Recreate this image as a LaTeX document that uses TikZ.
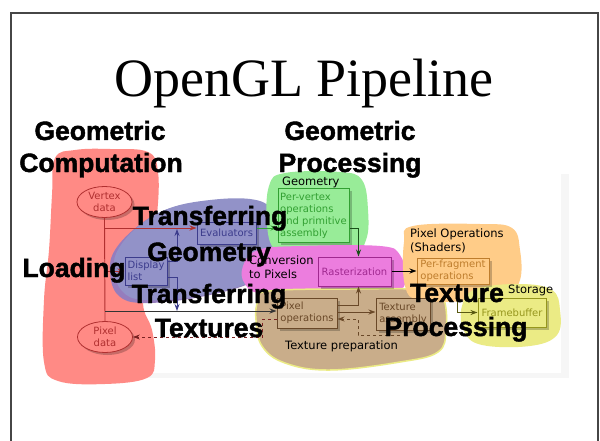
\documentclass[tikz,border=0pt]{standalone}
\usepackage{fontspec}
\setmainfont{Liberation Serif}
\newfontfamily\dv{DejaVu Sans}
\newfontfamily\heavy{Liberation Sans}[BoldFeatures={FakeBold=1.6}]
\usetikzlibrary{shapes.geometric,arrows.meta,shadows,calc}
\definecolor{cred}{RGB}{255,138,133}
\definecolor{cblue}{RGB}{146,146,200}
\definecolor{cgreen}{RGB}{152,236,152}
\definecolor{cpink}{RGB}{236,125,222}
\definecolor{cbrown}{RGB}{201,173,138}
\definecolor{corange}{RGB}{255,204,136}
\definecolor{cyellow}{RGB}{235,235,133}
\definecolor{dred}{RGB}{176,48,48}
\definecolor{dblue}{RGB}{60,60,140}
\definecolor{dgreen}{RGB}{50,160,50}
\definecolor{dpink}{RGB}{160,40,144}
\definecolor{dorange}{RGB}{190,125,45}
\definecolor{dbrown}{RGB}{105,72,40}
\definecolor{dolive}{RGB}{150,150,30}
\definecolor{framegray}{RGB}{70,70,70}
\definecolor{stripgray}{RGB}{246,246,246}
\tikzset{
  lab/.style={font=\heavy\bfseries\fontsize{26.5}{26.5}\selectfont, inner sep=0pt, anchor=base, text=black},
  small/.style={font=\dv\fontsize{11.5}{14}\selectfont, inner sep=0pt, text=black, align=left},
  boxtxt/.style={font=\dv\fontsize{10}{12}\selectfont, align=left, inner sep=1pt},
  pbox/.style={draw=#1, text=#1, line width=1pt, rectangle,
     drop shadow={shadow xshift=2.5pt, shadow yshift=-2.5pt, fill=black, opacity=0.22}},
  pell/.style={draw=dred, text=dred, fill=cred, line width=0.8pt, ellipse, inner sep=0pt,
     minimum width=55pt, minimum height=31pt, font=\dv\fontsize{10}{12}\selectfont, align=center,
     drop shadow={shadow xshift=2.5pt, shadow yshift=-2.5pt, fill=black, opacity=0.22}},
  conn/.style={line width=0.9pt, -{Stealth[length=7pt,width=5pt]}},
  link/.style={line width=0.9pt},
  blob/.style={smooth cycle, tension=0.65}
}
\begin{document}
\begin{tikzpicture}[x=1pt,y=-1pt]
\useasboundingbox (0,0) rectangle (600,441);
\fill[white] (0,0) rectangle (600,441);
% slide frame
\draw[framegray, line width=1.3pt] (11,441) -- (11,13) -- (598,13) -- (598,441);
% title
\node[font=\fontsize{54}{54}\selectfont, anchor=base, inner sep=0pt] (title) at (304,97) {OpenGL Pipeline};
% embedded image shadow strips
\fill[stripgray] (561,174) rectangle (569,378);
\fill[stripgray] (69,373) rectangle (569,378);
% blobs
\fill[cred] plot[blob] coordinates {(55,158) (75,150) (110,149) (148,152) (158,172) (157,215) (150,260) (143,303) (152,330) (155,360) (147,378) (105,384) (58,381) (44,362) (44,300) (49,250) (52,195)};
\fill[cblue!80!dpink] plot[blob] coordinates {(110,272) (115,250) (138,226) (168,209) (208,201) (250,200) (272,209) (285,229) (280,256) (255,281) (200,297) (143,303) (118,295)};
\fill[cblue] plot[blob] coordinates {(114,268) (119,248) (140,225) (170,208) (210,200) (250,199) (272,208) (285,228) (280,255) (255,280) (200,296) (145,300) (122,291)};
\fill[cgreen] plot[blob] coordinates {(269,186) (285,173) (340,172) (362,180) (368,210) (366,240) (350,258) (300,262) (275,250) (267,225)};
\fill[cpink] plot[blob] coordinates {(243,266) (258,250) (300,246) (380,246) (400,255) (404,275) (398,290) (340,295) (265,294) (245,284)};
\filldraw[fill=cbrown, draw=cyellow, line width=1.5pt] plot[blob] coordinates {(258,301) (269,291) (350,289) (430,290) (444,300) (446,330) (438,352) (400,362) (330,370) (285,363) (262,346) (256,320)};
\fill[corange] plot[blob] coordinates {(404,242) (413,226) (480,224) (512,228) (520,250) (520,280) (505,296) (470,301) (420,300) (405,286)};
\fill[cyellow] plot[blob] coordinates {(462,306) (476,289) (520,284) (552,290) (560,310) (557,335) (530,346) (482,345) (464,331)};
% group captions
\node[small, anchor=west] (cgeo) at (282,182) {Geometry};
\node[small, anchor=north west] (cconv) at (249,256) {Conversion\\to Pixels};
\node[small, anchor=north west] (cpixop) at (410,229) {Pixel Operations\\(Shaders)};
\node[small, anchor=west] (cstor) at (508,290) {Storage};
\node[small, anchor=west] (cprep) at (285,346) {Texture preparation};
% nodes
\node[pell] (vd) at (104.5,202) {Vertex\\data};
\node[pell] (pd) at (105,337) {Pixel\\data};
\node[pbox=dblue, fill=cblue, boxtxt, minimum width=42pt, minimum height=28pt] (dl) at (146,271) {Display\\list};
\node[pbox=dblue, fill=cblue, boxtxt, minimum width=59pt, minimum height=22pt] (ev) at (226.5,233) {Evaluators};
\node[pbox=dgreen, fill=cgreen, boxtxt, minimum width=71pt, minimum height=53pt] (pv) at (313.5,215.5) {Per-vertex\\operations\\and primitive\\assembly};
\node[pbox=dpink, fill=cpink, boxtxt, minimum width=73pt, minimum height=29pt] (ra) at (354.5,271.5) {Rasterization};
\node[pbox=dorange, fill=corange, boxtxt, minimum width=72pt, minimum height=26pt] (pf) at (453,271) {Per-fragment\\operations};
\node[pbox=dbrown, fill=cbrown, boxtxt, minimum width=60pt, minimum height=30pt] (po) at (307,313) {Pixel\\operations};
\node[pbox=dbrown, fill=cbrown, boxtxt, minimum width=54pt, minimum height=32pt] (ta) at (403,314) {Texture\\assembly};
\node[pbox=dolive, fill=cyellow, boxtxt, minimum width=68pt, minimum height=29pt] (fb) at (512,312.5) {Framebuffer};
% junctions
\coordinate (j1) at (177,229);
\coordinate (j2) at (177,311);
\coordinate (e1) at ([yshift=5pt]ev.east);
\coordinate (e2) at ([yshift=1pt]po.east);
\coordinate (d1) at (400,335);
\coordinate (d2) at (358,319);
\coordinate (d3) at (262,319);
% connectors
\draw[link, dred] (vd.south) -- (pd.north);
\draw[conn, dred] (vd.south |- e1) -- (ev.west |- e1);
\draw[conn, dblue] ([yshift=10pt]dl.east) -| (j1);
\draw[conn, dblue] ([yshift=-6pt]dl.east) -| (j2);
\draw[conn, dred] (vd.south |- dl.west) -- (dl.west);
\draw[conn, black!80] (vd.south |- j2) -- (po.west |- j2);
\draw[conn, dgreen] (e1) -- (pv.west |- e1);
\draw[conn, dgreen!50!black] (pv.east |- e1) -| ([xshift=4pt]ra.north);
\draw[conn, dbrown] ([yshift=8pt]po.east) -| ([xshift=4pt]ra.south);
\draw[conn, dbrown] (e2) -- (ta.west |- e2);
\draw[conn, dbrown, dashed] (d1) -| (d2) -- (po.east |- d2);
\draw[conn, dred!70!black, dashed] (po.west |- d3) -- (d3) |- (pd.east);
\draw[conn, black] (ra.east |- pf.west) -- (pf.west);
\draw[conn, dolive!60!black] ([xshift=4pt]pf.south) |- (fb.west);
% overlay labels
\node[lab] (l1) at (100,140) {Geometric};
\node[lab] (l2) at (101,172) {Computation};
\node[lab] (l3) at (350,140) {Geometric};
\node[lab] (l4) at (350,172) {Processing};
\node[lab] (l5) at (210,225) {Transferring};
\node[lab] (l6) at (209,261) {Geometry};
\node[lab] (l7) at (74,277) {Loading};
\node[lab] (l8) at (209,303) {Transferring};
\node[lab] (l9) at (209,337) {Textures};
\node[lab] (l10) at (457,302) {Texture};
\node[lab] (l11) at (456,336) {Processing};
\end{tikzpicture}
\end{document}
